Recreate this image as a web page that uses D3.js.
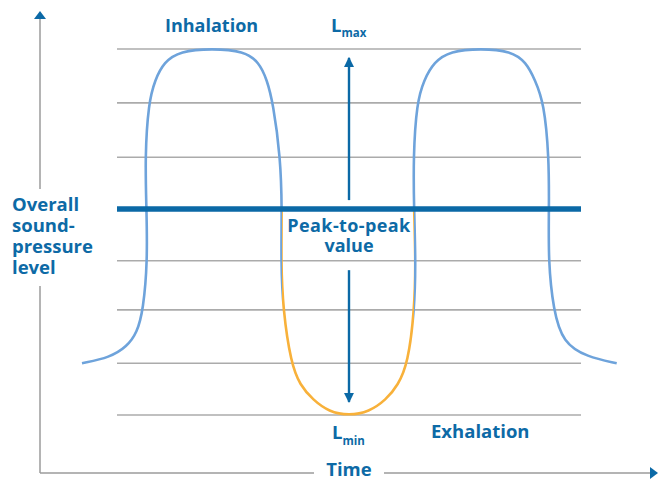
<!DOCTYPE html>
<html>
<head>
<meta charset="utf-8">
<script src="https://cdn.jsdelivr.net/npm/d3@7/dist/d3.min.js"></script>
<style>
  html, body { margin: 0; padding: 0; background: #fff; }
  svg { display: block; }
  text { font-family: "Open Sans", Lato, sans-serif; font-weight: 700; fill: #0d6aa6; }
</style>
</head>
<body>
<svg id="chart" width="660" height="480"></svg>
<script>
// ---- data (time in arbitrary units, level in arbitrary units: 0 = Lmin, 7 = Lmax) ----
const timeValues = [
  42, 70, 87, 97, 103.3, 107.5,
  106.5, 105, 108.5, 115, 124, 140, 172, 204, 219, 227, 233, 240.5, 242,
  241, 243, 251, 260, 273, 289, 309, 329, 346, 358, 368, 374.5, 375.7,
  374, 373.3, 376.7, 384, 394, 410, 441, 471, 486, 495, 504, 509, 509,
  508.3, 513.3, 523, 547, 576.7
];
const levelValues = [
  0.99, 1.10, 1.31, 1.57, 2.01, 2.95,
  3.94, 4.93, 5.97, 6.41, 6.75, 6.96, 7.01, 6.96, 6.75, 6.41, 5.97, 4.93, 3.94,
  2.95, 2.01, 0.99, 0.57, 0.29, 0.06, -0.01, 0.06, 0.29, 0.57, 0.99, 2.01, 2.95,
  3.94, 4.93, 5.97, 6.41, 6.75, 6.96, 7.01, 6.96, 6.75, 6.41, 5.97, 4.93, 3.94,
  2.95, 2.01, 1.38, 1.11, 0.99
];
const gridLevels = [0, 0.99, 2.01, 2.95, 4.93, 5.97, 7];
const meanLevel = 3.94;
const gridTimeRange = [77, 541];
const exhalationRange = [242, 374];   // time span where the curve is below the mean (orange)
const arrowTime = 309;
const upArrowLevels = [4.11, 6.83];
const downArrowLevels = [2.77, 0.25];

const colors = { inhale: "#6ea3db", exhale: "#f8b13a", dark: "#0b69a6", grid: "#ababab", axis: "#9b9b9b" };

const svg = d3.select("#chart");
const x = d3.scaleLinear().domain([0, 620]).range([40, 660]);
const y = d3.scaleLinear().domain([0, 7]).range([415, 49]);

// defs: arrowheads and clip regions
const defs = svg.append("defs");
defs.append("marker").attr("id", "arrow").attr("viewBox", "0 0 10 10")
  .attr("refX", 9).attr("refY", 5).attr("markerWidth", 10).attr("markerHeight", 10)
  .attr("markerUnits", "userSpaceOnUse").attr("orient", "auto")
  .append("path").attr("d", "M0,0 L10,5 L0,10 Z").attr("fill", colors.dark);

defs.append("clipPath").attr("id", "clipExhale").append("rect")
  .attr("x", x(exhalationRange[0])).attr("width", x(exhalationRange[1]) - x(exhalationRange[0]))
  .attr("y", y(meanLevel)).attr("height", 480 - y(meanLevel));
const outside = defs.append("clipPath").attr("id", "clipInhale");
outside.append("rect").attr("x", 0).attr("y", 0).attr("width", 660).attr("height", y(meanLevel));
outside.append("rect").attr("x", 0).attr("y", y(meanLevel)).attr("width", x(exhalationRange[0])).attr("height", 480);
outside.append("rect").attr("x", x(exhalationRange[1])).attr("y", y(meanLevel)).attr("width", 660).attr("height", 480);

// gridlines
svg.append("g").selectAll("line").data(gridLevels).join("line")
  .attr("x1", x(gridTimeRange[0])).attr("x2", x(gridTimeRange[1]))
  .attr("y1", d => y(d)).attr("y2", d => y(d))
  .attr("stroke", colors.grid).attr("stroke-width", 1.6);

// axes (with gaps for labels)
const axisG = svg.append("g").attr("stroke", colors.axis).attr("stroke-width", 1.5);
axisG.append("line").attr("x1", x(0)).attr("x2", x(0)).attr("y1", 473).attr("y2", 286);
axisG.append("line").attr("x1", x(0)).attr("x2", x(0)).attr("y1", 189).attr("y2", 18);
axisG.append("line").attr("x1", x(0)).attr("x2", 314).attr("y1", 473).attr("y2", 473);
axisG.append("line").attr("x1", 384).attr("x2", 651).attr("y1", 473).attr("y2", 473);
svg.append("path").attr("d", `M${x(0) - 6},19 L${x(0)},11 L${x(0) + 6},19 Z`).attr("fill", colors.dark);
svg.append("path").attr("d", `M650,467 L658,473 L650,479 Z`).attr("fill", colors.dark);

// curve
const pts = timeValues.map((t, i) => [t, levelValues[i]]);
const line = d3.line().x(d => x(d[0])).y(d => y(d[1])).curve(d3.curveBasis);
svg.append("path").attr("d", line(pts)).attr("fill", "none")
  .attr("stroke", colors.inhale).attr("stroke-width", 2.6).attr("clip-path", "url(#clipInhale)");
svg.append("path").attr("d", line(pts)).attr("fill", "none")
  .attr("stroke", colors.exhale).attr("stroke-width", 2.6).attr("clip-path", "url(#clipExhale)");

// mean line
svg.append("line").attr("x1", x(gridTimeRange[0])).attr("x2", x(gridTimeRange[1]))
  .attr("y1", y(meanLevel)).attr("y2", y(meanLevel))
  .attr("stroke", colors.dark).attr("stroke-width", 5.5);

// peak-to-peak arrows
[upArrowLevels, downArrowLevels].forEach(lv => {
  svg.append("line").attr("x1", x(arrowTime)).attr("x2", x(arrowTime))
    .attr("y1", y(lv[0])).attr("y2", y(lv[1]))
    .attr("stroke", colors.dark).attr("stroke-width", 2.4).attr("marker-end", "url(#arrow)");
});

// labels
function label(txt, px, py, size, anchor) {
  return svg.append("text").attr("x", px).attr("y", py).attr("font-size", size)
    .attr("text-anchor", anchor || "start").text(txt);
}
label("Inhalation", 165, 32, 18);
label("Exhalation", 431, 438, 18.5);
const lmax = svg.append("text").attr("x", 331).attr("y", 32).attr("font-size", 18.5);
lmax.append("tspan").text("L");
lmax.append("tspan").attr("font-size", 11.5).attr("dy", 5).text("max");
const lmin = svg.append("text").attr("x", 332).attr("y", 439).attr("font-size", 18.5);
lmin.append("tspan").text("L");
lmin.append("tspan").attr("font-size", 11.5).attr("dy", 6).text("min");
label("Peak-to-peak", 349, 232, 18, "middle").attr("letter-spacing", 0.4);
label("value", 349, 252, 18, "middle");
["Overall", "sound-", "pressure", "level"].forEach((t, i) => label(t, 12, 211 + i * 21, 18.5));
label("Time", 349, 476, 18.5, "middle");
</script>
</body>
</html>
